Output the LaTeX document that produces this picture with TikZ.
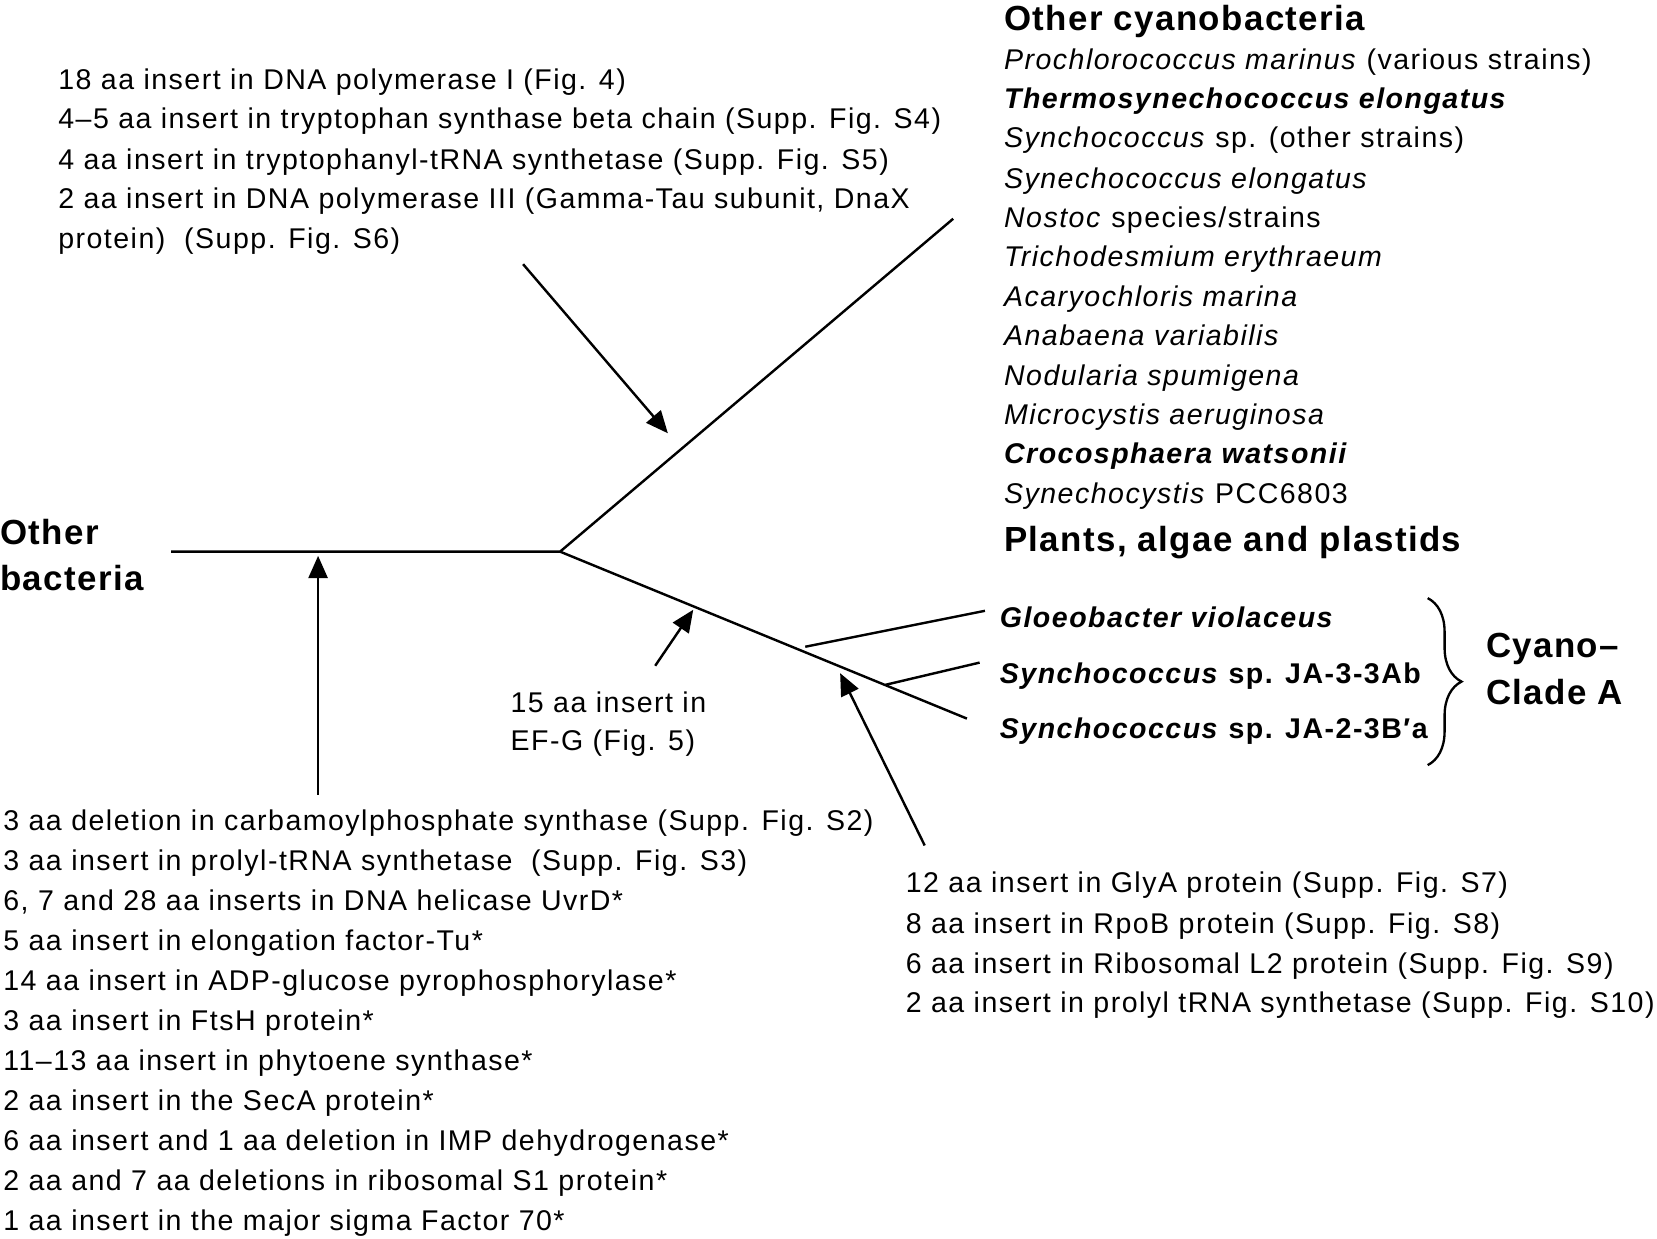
\documentclass[tikz,border=0pt]{standalone}
\usepackage{fontspec}
\setmainfont{Liberation Sans}[LetterSpace=5.2]
\newfontfamily\hdfamily{Liberation Sans}[LetterSpace=4]
\usetikzlibrary{arrows.meta,decorations.pathreplacing}
\begin{document}
\begin{tikzpicture}[x=1pt,y=-1pt,
  txt/.style={anchor=base west, inner sep=0pt, font=\fontsize{27}{30}\selectfont},
  btxt/.style={anchor=base west, inner sep=0pt, font=\bfseries\fontsize{27}{30}\selectfont},
  hd/.style={anchor=base west, inner sep=0pt, font=\hdfamily\bfseries\fontsize{33}{40}\selectfont},
  branch/.style={line width=2.3pt},
  arr/.style={line width=2.3pt, -{Triangle[length=21pt,width=18pt]}}]
\useasboundingbox (0,0) rectangle (1568,1172);
% tree
\coordinate (root) at (162,522);
\coordinate (J) at (530,522);
\coordinate (up) at (902,207);
\coordinate (low) at (915,680);
\coordinate (g0) at (762,612);
\coordinate (g1) at (932,578);
\coordinate (s0) at (838,648);
\coordinate (s1) at (927,627);
\draw[branch] (root) -- (J) -- (up);
\draw[branch] (J) -- (low);
\draw[branch] (g0) -- (g1);
\draw[branch] (s0) -- (s1);
% arrows
\coordinate (a1s) at (301,752); \coordinate (a1e) at (301,526);
\coordinate (a2s) at (495,250); \coordinate (a2e) at (632,410);
\coordinate (a3s) at (620,630); \coordinate (a3e) at (656,577);
\coordinate (a4s) at (875,800); \coordinate (a4e) at (795,637);
\draw[arr] (a1s) -- (a1e);
\draw[arr] (a2s) -- (a2e);
\draw[arr] (a3s) -- (a3e);
\draw[arr] (a4s) -- (a4e);
% top-left list
\node[txt] (tl1) at (55,85) {18 aa insert in DNA polymerase I (Fig. 4)};
\node[txt] (tl2) at (55,122) {4–5 aa insert in tryptophan synthase beta chain (Supp. Fig. S4)};
\node[txt] (tl3) at (55,160) {4 aa insert in tryptophanyl-tRNA synthetase (Supp. Fig. S5)};
\node[txt] (tl4) at (55,197) {2 aa insert in DNA polymerase III (Gamma-Tau subunit, DnaX};
\node[txt] (tl5) at (55,235) {protein)\ \ (Supp. Fig. S6)};
% right list
\node[hd] (oc) at (950,29) {Other cyanobacteria};
\node[txt] (r1) at (950,66) {\textit{Prochlorococcus marinus} (various strains)};
\node[txt] (r2) at (950,103) {\textbf{\textit{Thermosynechococcus elongatus}}};
\node[txt] (r3) at (950,140) {\textit{Synchococcus} sp. (other strains)};
\node[txt] (r4) at (950,178) {\textit{Synechococcus elongatus}};
\node[txt] (r5) at (950,215) {\textit{Nostoc} species/strains};
\node[txt] (r6) at (950,252) {\textit{Trichodesmium erythraeum}};
\node[txt] (r7) at (950,290) {\textit{Acaryochloris marina}};
\node[txt] (r8) at (950,327) {\textit{Anabaena variabilis}};
\node[txt] (r9) at (950,365) {\textit{Nodularia spumigena}};
\node[txt] (r10) at (950,402) {\textit{Microcystis aeruginosa}};
\node[txt] (r11) at (950,439) {\textbf{\textit{Crocosphaera watsonii}}};
\node[txt] (r12) at (950,476) {\textit{Synechocystis} PCC6803};
\node[hd] (pl) at (950,522) {Plants, algae and plastids};
% clade A
\node[btxt] (c1) at (946,594) {\textit{Gloeobacter violaceus}};
\node[btxt] (c2) at (946,647) {\textit{Synchococcus} sp. JA-3-3Ab};
\node[btxt] (c3) at (946,699) {\textit{Synchococcus} sp. JA-2-3B′a};
\draw[line width=2.2pt, decorate, decoration={brace, amplitude=32pt}] (1351,566) -- (1351,724);
\node[hd] (ca1) at (1406,622) {Cyano–};
\node[hd] (ca2) at (1406,667) {Clade A};
% other bacteria
\node[hd] (ob1) at (0,515) {Other};
\node[hd] (ob2) at (0,559) {bacteria};
% EF-G
\node[txt] (ef1) at (483,674) {15 aa insert in};
\node[txt] (ef2) at (483,710) {EF-G (Fig. 5)};
% bottom-left list
\node[txt] (bl1) at (3,786) {3 aa deletion in carbamoylphosphate synthase (Supp. Fig. S2)};
\node[txt] (bl2) at (3,823.8) {3 aa insert in prolyl-tRNA synthetase\ \ (Supp. Fig. S3)};
\node[txt] (bl3) at (3,861.6) {6, 7 and 28 aa inserts in DNA helicase UvrD*};
\node[txt] (bl4) at (3,899.4) {5 aa insert in elongation factor-Tu*};
\node[txt] (bl5) at (3,937.2) {14 aa insert in ADP-glucose pyrophosphorylase*};
\node[txt] (bl6) at (3,975) {3 aa insert in FtsH protein*};
\node[txt] (bl7) at (3,1012.8) {11–13 aa insert in phytoene synthase*};
\node[txt] (bl8) at (3,1050.6) {2 aa insert in the SecA protein*};
\node[txt] (bl9) at (3,1088.4) {6 aa insert and 1 aa deletion in IMP dehydrogenase*};
\node[txt] (bl10) at (3,1126.2) {2 aa and 7 aa deletions in ribosomal S1 protein*};
\node[txt] (bl11) at (3,1164) {1 aa insert in the major sigma Factor 70*};
% bottom-right list
\node[txt] (br1) at (857,845) {12 aa insert in GlyA protein (Supp. Fig. S7)};
\node[txt] (br2) at (857,883) {8 aa insert in RpoB protein (Supp. Fig. S8)};
\node[txt] (br3) at (857,921) {6 aa insert in Ribosomal L2 protein (Supp. Fig. S9)};
\node[txt] (br4) at (857,958) {2 aa insert in prolyl tRNA synthetase (Supp. Fig. S10)};
\end{tikzpicture}
\end{document}
